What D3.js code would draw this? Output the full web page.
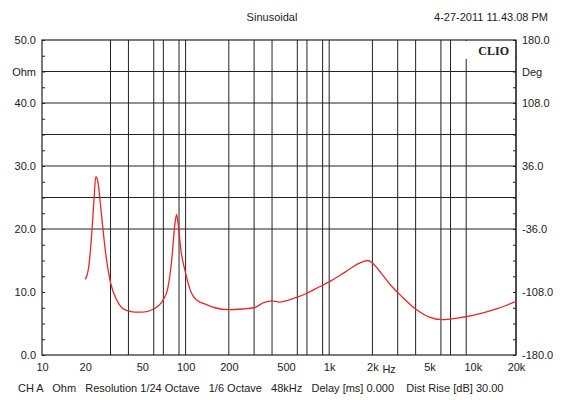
<!DOCTYPE html>
<html>
<head>
<meta charset="utf-8">
<script src="https://cdnjs.cloudflare.com/ajax/libs/d3/7.8.5/d3.min.js"></script>
<style>
  body { margin: 0; background: #fff; }
  text { font-family: "Liberation Sans", Arial, sans-serif; font-size: 11px; fill: #222; }
</style>
</head>
<body>
<div id="chart"></div>
<script>
// impedance curve (Hz, Ohm)
var freqs = [20, 21, 22, 23, 23.7, 24.5, 25.5, 27, 28, 30, 33, 36, 40, 45, 50, 60, 70, 75, 80, 84, 86.5, 89, 93, 100, 110, 120, 140, 160, 200, 250, 300, 350, 400, 450, 500, 600, 700, 850, 1000, 1300, 1600, 1850, 2000, 2300, 2700, 3200, 4000, 5000, 6000, 8000, 10000, 15000, 20000];
var ohms  = [12, 13.5, 18, 24.5, 28.3, 27.5, 24, 18.5, 15.5, 11.5, 8.8, 7.5, 7.0, 6.8, 6.8, 7.3, 8.8, 10.5, 15, 20.5, 22.3, 20.5, 16.5, 13, 9.8, 8.7, 8.0, 7.5, 7.2, 7.3, 7.5, 8.3, 8.6, 8.4, 8.6, 9.2, 9.8, 10.8, 11.6, 13.2, 14.5, 15.0, 14.6, 13, 11, 9.3, 7.3, 6.0, 5.6, 5.9, 6.3, 7.4, 8.5];
var gridFreqs = [30, 40, 60, 70, 90, 100, 200, 300, 400, 600, 700, 900, 1000, 2000, 3000, 4000, 6000, 7000, 9000, 20000];
var xTicks = [10, 20, 50, 100, 200, 500, 1000, 2000, 5000, 10000, 20000];
var xTickLabels = ["10", "20", "50", "100", "200", "500", "1k", "2k", "5k", "10k", "20k"];
var leftTicks = [0, 10, 20, 30, 40, 50];
var gridOhms = [20, 25, 30, 35, 40, 45];
var rightTicks = [-180, -108, -36, 36, 108, 180];

var W = 562, H = 400;
var m = {left: 42, right: 46, top: 40, bottom: 45};
var svg = d3.select("#chart").append("svg").attr("width", W).attr("height", H);

var x = d3.scaleLog().domain([10, 20000]).range([m.left, W - m.right]);
var y = d3.scaleLinear().domain([0, 50]).range([H - m.bottom, m.top]);
var y2 = d3.scaleLinear().domain([-180, 180]).range([H - m.bottom, m.top]);
var fmt = d => d.toFixed(1);

// grid
svg.selectAll(".vg").data(gridFreqs).enter().append("line")
  .attr("x1", d => x(d)).attr("x2", d => x(d))
  .attr("y1", m.top).attr("y2", H - m.bottom)
  .attr("stroke", "#222").attr("stroke-width", 1);
svg.selectAll(".hg").data(gridOhms).enter().append("line")
  .attr("x1", m.left).attr("x2", W - m.right)
  .attr("y1", d => y(d)).attr("y2", d => y(d))
  .attr("stroke", "#222").attr("stroke-width", 1);
svg.append("rect").attr("x", m.left).attr("y", m.top)
  .attr("width", W - m.left - m.right).attr("height", H - m.top - m.bottom)
  .attr("fill", "none").attr("stroke", "#222").attr("stroke-width", 1.2);

// axes
var la = d3.axisLeft(y).tickValues(leftTicks).tickFormat(fmt).tickSize(0).tickPadding(6);
svg.append("g").attr("transform", "translate(" + m.left + ",0)").call(la)
  .call(g => g.select(".domain").remove());
var lm = d3.axisLeft(y).tickValues(d3.range(0, 51, 2.5)).tickFormat("").tickSize(-3);
svg.append("g").attr("transform", "translate(" + m.left + ",0)").call(lm)
  .call(g => g.select(".domain").remove());
var ra = d3.axisRight(y2).tickValues(rightTicks).tickFormat(fmt).tickSize(0).tickPadding(6);
svg.append("g").attr("transform", "translate(" + (W - m.right) + ",0)").call(ra)
  .call(g => g.select(".domain").remove());
var rm = d3.axisRight(y2).tickValues(d3.range(-180, 181, 18)).tickFormat("").tickSize(-3);
svg.append("g").attr("transform", "translate(" + (W - m.right) + ",0)").call(rm)
  .call(g => g.select(".domain").remove());
var ba = d3.axisBottom(x).tickValues(xTicks).tickFormat((d, i) => xTickLabels[i]).tickSize(0).tickPadding(8);
svg.append("g").attr("transform", "translate(0," + (H - m.bottom) + ")").call(ba)
  .call(g => g.select(".domain").remove());
svg.selectAll(".tick line").attr("stroke", "#222");
svg.selectAll(".tick text").style("font-size", "11px").attr("fill", "#222");

svg.append("text").attr("x", 36).attr("y", y(45) + 4).attr("text-anchor", "end").text("Ohm");
svg.append("text").attr("x", W - m.right + 6).attr("y", y(45) + 4).text("Deg");
svg.append("text").attr("x", x(2000) + 10).attr("y", H - m.bottom + 18).text("Hz");

// curve
var pts = freqs.map((f, i) => [f, ohms[i]]);
svg.append("path").datum(pts)
  .attr("d", d3.line().x(d => x(d[0])).y(d => y(d[1])).curve(d3.curveMonotoneX))
  .attr("fill", "none").attr("stroke", "#e8262a").attr("stroke-width", 1.3);

// header / footer
svg.append("text").attr("x", 272).attr("y", 21).attr("text-anchor", "middle").text("Sinusoidal");
svg.append("text").attr("x", 548).attr("y", 21).attr("text-anchor", "end").text("4-27-2011 11.43.08 PM");
svg.append("rect").attr("x", 458).attr("y", 41).attr("width", 57).attr("height", 18).attr("fill", "#fff");
svg.append("text").attr("x", 509).attr("y", 55).attr("text-anchor", "end")
  .style("font-family", "Liberation Serif, serif").style("font-weight", "bold").style("font-size", "12px").text("CLIO");
svg.append("text").attr("x", 18).attr("y", 392).attr("xml:space", "preserve")
  .text("CH A   Ohm   Resolution 1/24 Octave   1/6 Octave   48kHz   Delay [ms] 0.000    Dist Rise [dB] 30.00");
</script>
</body>
</html>
